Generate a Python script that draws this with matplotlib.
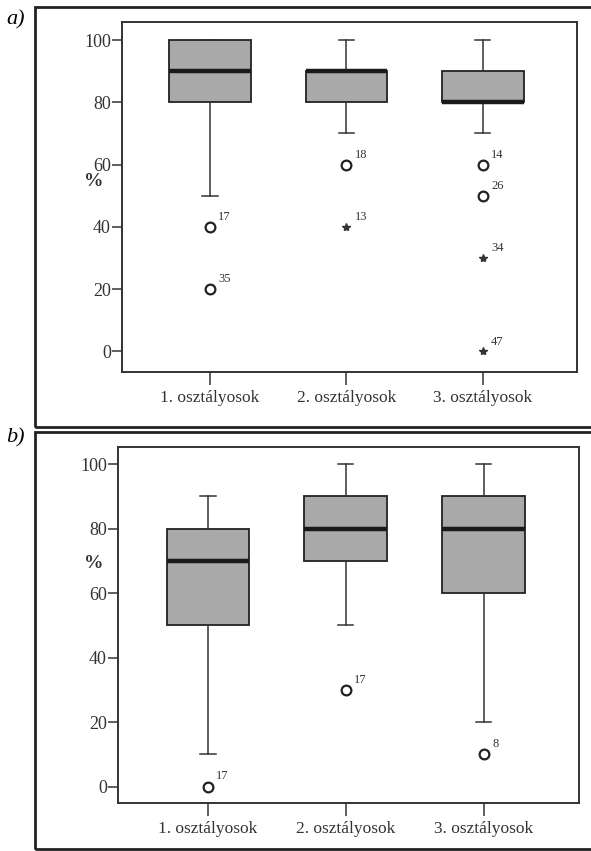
import matplotlib.pyplot as plt
from matplotlib.patches import Rectangle

plt.rcParams['font.family'] = ['Liberation Serif', 'DejaVu Serif']

groups = ['1. osztályosok', '2. osztályosok', '3. osztályosok']
yticks = [0, 20, 40, 60, 80, 100]

# panel a) box statistics: q1, median, q3, lower whisker, upper whisker
a_q1 = [80, 80, 80]
a_med = [90, 90, 80]
a_q3 = [100, 90, 90]
a_wlo = [50, 70, 70]
a_whi = [100, 100, 100]
# outliers: (group, value, case id, marker)
a_out = [(1, 40, '17', 'o'), (1, 20, '35', 'o'),
         (2, 60, '18', 'o'), (2, 40, '13', '*'),
         (3, 60, '14', 'o'), (3, 50, '26', 'o'),
         (3, 30, '34', '*'), (3, 0, '47', '*')]

# panel b)
b_q1 = [50, 70, 60]
b_med = [70, 80, 80]
b_q3 = [80, 90, 90]
b_wlo = [10, 50, 20]
b_whi = [90, 100, 100]
b_out = [(1, 0, '17', 'o'), (2, 30, '17', 'o'), (3, 10, '8', 'o')]

fig = plt.figure(figsize=(5.91, 8.51), dpi=100)

# outer frames around the panels
fig.patches.append(Rectangle((35/591, 1-427/851), 0.99, 420/851, transform=fig.transFigure,
                             fill=False, lw=2, ec='#222222'))
fig.patches.append(Rectangle((35/591, 1-849/851), 0.99, 417/851, transform=fig.transFigure,
                             fill=False, lw=2, ec='#222222'))
fig.text(6/591, 1-20/851, 'a)', fontsize=16, style='italic', va='center')
fig.text(6/591, 1-438/851, 'b)', fontsize=16, style='italic', va='center')


def draw_panel(rect, q1, med, q3, wlo, whi, outs, ylim, xlim, pct_y):
    ax = fig.add_axes(rect)
    stats = []
    for i in range(len(groups)):
        stats.append({'q1': q1[i], 'med': med[i], 'q3': q3[i],
                      'whislo': wlo[i], 'whishi': whi[i], 'fliers': []})
    ax.bxp(stats, positions=[1, 2, 3], widths=0.6, capwidths=0.11,
           patch_artist=True, showfliers=False,
           boxprops=dict(facecolor='#a9a9a9', edgecolor='#222222', lw=1.3),
           medianprops=dict(color='#1a1a1a', lw=3.2),
           whiskerprops=dict(color='#333333', lw=1.1),
           capprops=dict(color='#333333', lw=1.1))
    for g, v, lab, m in outs:
        if m == 'o':
            ax.plot(g, v, 'o', ms=7, mfc='white', mec='#222222', mew=1.6, clip_on=False)
        else:
            ax.plot(g, v, '*', ms=6, color='#333333', clip_on=False)
        ax.text(g + 0.06, v + 2.2, lab, fontsize=9, color='#333333')
    ax.set_xlim(*xlim)
    ax.set_ylim(*ylim)
    ax.set_yticks(yticks)
    ax.set_xticks([1, 2, 3])
    ax.set_xticklabels(groups, fontsize=12.5, color='#333333')
    ax.tick_params(axis='y', labelsize=13, length=7, width=1.1, colors='#333333', pad=1)
    ax.tick_params(axis='x', length=9, width=1.1, colors='#333333', pad=4)
    for s in ax.spines.values():
        s.set_linewidth(1.4)
        s.set_color('#333333')
    fig.text(84/591, 1-pct_y/851, '%', fontsize=14, fontweight='bold', color='#333333', va='center')
    return ax


draw_panel([122/591, 1-372/851, 455/591, 350/851], a_q1, a_med, a_q3, a_wlo, a_whi, a_out,
           (-6.6, 105.8), (0.355, 3.69), 182)
draw_panel([118/591, 1-803/851, 461/591, 356/851], b_q1, b_med, b_q3, b_wlo, b_whi, b_out,
           (-5.1, 105.3), (0.348, 3.69), 563)

plt.savefig('out.png', dpi=100)
